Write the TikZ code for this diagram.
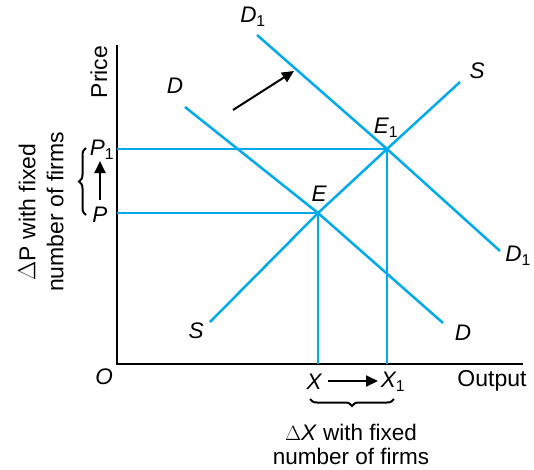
\documentclass[tikz,border=0pt]{standalone}
\usepackage{fontspec}
\setmainfont{Liberation Sans}
\usetikzlibrary{decorations.pathreplacing,arrows.meta}
\definecolor{cblue}{RGB}{0,170,235}
\begin{document}
\begin{tikzpicture}[x=1pt,y=-1pt,
  curve/.style={cblue,line width=2.5pt},
  guide/.style={cblue,line width=2.5pt},
  axis/.style={black,line width=1.4pt},
  lbl/.style={font=\fontsize{22.5}{25}\selectfont\itshape,inner sep=0pt},
  txt/.style={font=\fontsize{23}{24}\selectfont,inner sep=0pt,align=center},
  shiftarrow/.style={black,line width=2pt,-{Triangle[length=12pt,width=11pt]}},
  brc/.style={black,line width=2pt,decorate,decoration={brace,amplitude=7pt}}]
\useasboundingbox (0,0) rectangle (534,469);
% axes
\coordinate (top) at (117,45);
\coordinate (O0) at (117,364);
\coordinate (xend) at (523,364);
\draw[axis] (top) -- (O0) -- (xend);
% equilibrium points
\coordinate (E0) at (318,213);
\coordinate (E1p) at (387,149);
\coordinate (Py) at (117,213);
\coordinate (P1y) at (117,149);
\coordinate (Xx) at (318,364);
\coordinate (X1x) at (387,364);
\draw[guide] (Py) -- (E0) -- (Xx);
\draw[guide] (P1y) -- (E1p) -- (X1x);
% curves
\coordinate (Sa) at (210,322);
\coordinate (Sb) at (460,82);
\draw[curve] (Sa) -- (E0) -- (E1p) -- (Sb);
\coordinate (Da) at (185,107);
\coordinate (Db) at (443,323);
\draw[curve] (Da) -- (E0) -- (Db);
\coordinate (D1a) at (257,35);
\coordinate (D1b) at (500,251);
\draw[curve] (D1a) -- (E1p) -- (D1b);
% shift arrow
\coordinate (arA) at (233,110);
\coordinate (arB) at (294,71);
\draw[shiftarrow] (arA) -- (arB);
% labels
\node[lbl] (lD1t) at (253,17) {D\textsubscript{\upshape 1}};
\node[lbl] (lDt) at (175,86) {D};
\node[lbl] (lSt) at (477,71) {S};
\node[lbl] (lE1) at (386,128) {E\textsubscript{\upshape 1}};
\node[lbl] (lE) at (319,194) {E};
\node[lbl] (lD1b) at (518,256) {D\textsubscript{\upshape 1}};
\node[lbl] (lSb) at (196,331) {S};
\node[lbl] (lDb) at (463,333) {D};
\node[lbl] (lO) at (104,377) {O};
\node[lbl] (lX) at (314,382) {X};
\node[lbl] (lX1) at (393,382) {X\textsubscript{\upshape 1}};
\node[txt] (lOut) at (492,381) {Output};
\node[txt,rotate=90] (lPrice) at (99,72) {Price};
\node[lbl] (lP1) at (102,150) {P\textsubscript{\upshape 1}};
\node[lbl] (lP) at (100,215) {P};
\coordinate (xa) at (328,381);
\coordinate (xb) at (378,381);
\draw[shiftarrow] (xa) -- (xb);
\coordinate (pa) at (100,200);
\coordinate (pb) at (100,161);
\draw[shiftarrow] (pa) -- (pb);
% braces
\coordinate (b1a) at (86,215);
\coordinate (b1b) at (86,148);
\draw[brc] (b1a) -- (b1b);
\coordinate (b2a) at (310,399);
\coordinate (b2b) at (394,399);
\draw[brc,decoration={mirror}] (b2a) -- (b2b);
\node[txt,rotate=90,font=\fontsize{23}{28}\selectfont] (lDP) at (41,212) {$\Delta$P with fixed\\number of firms};
\node[txt,anchor=south,font=\fontsize{22.5}{24}\selectfont] (lDX) at (351,465) {$\Delta$\textit{X} with fixed\\number of firms};
\end{tikzpicture}
\end{document}
